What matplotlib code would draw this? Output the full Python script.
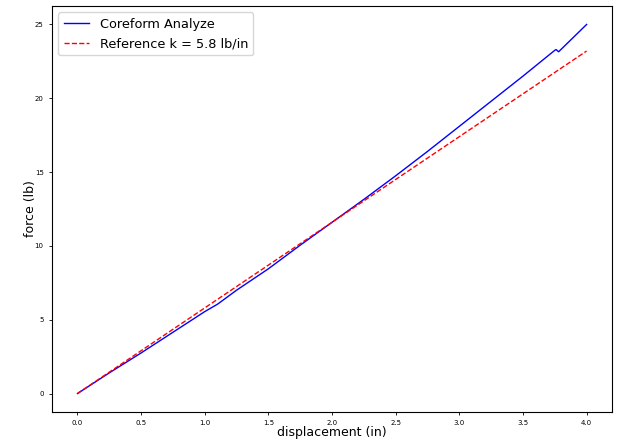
import matplotlib
matplotlib.use('Agg')
from matplotlib import pyplot as plt
import numpy as np

disp = [0.0, 0.25, 0.5, 0.75, 1.0, 1.1, 1.25, 1.5, 1.75, 2.0, 2.25, 2.5,
        2.75, 3.0, 3.25, 3.5, 3.75, 3.76, 3.78, 4.0]
force = [0.0, 1.4, 2.75, 4.15, 5.55, 6.05, 7.0, 8.45, 10.05, 11.6, 13.15, 14.75,
         16.4, 18.1, 19.8, 21.5, 23.25, 23.3, 23.15, 25.0]

# reference spring
k_ref = 5.8
ref_disp = [0.0, 4.0]
ref_force = [k_ref * d for d in ref_disp]

fig = plt.figure(figsize=(6.17, 4.42), dpi=100)
ax = fig.add_axes([0.0843, 0.0679, 0.9077, 0.9185])

ax.plot(disp, force, 'b-', lw=1.0, label='Coreform Analyze')
ax.plot(ref_disp, ref_force, 'r--', lw=1.0, label='Reference k = 5.8 lb/in')

ax.set_xlabel('displacement (in)', fontsize=9, labelpad=0)
ax.set_ylabel('force (lb)', fontsize=9, labelpad=-2)
ax.tick_params(labelsize=5, length=2.5, width=0.6)
ax.set_xticks(np.arange(0, 4.01, 0.5))
ax.set_yticks([0, 5, 10, 15, 20, 25])
ax.legend(loc='upper left', fontsize=9.3, handlelength=2.0)

plt.savefig('out.png', dpi=100)
